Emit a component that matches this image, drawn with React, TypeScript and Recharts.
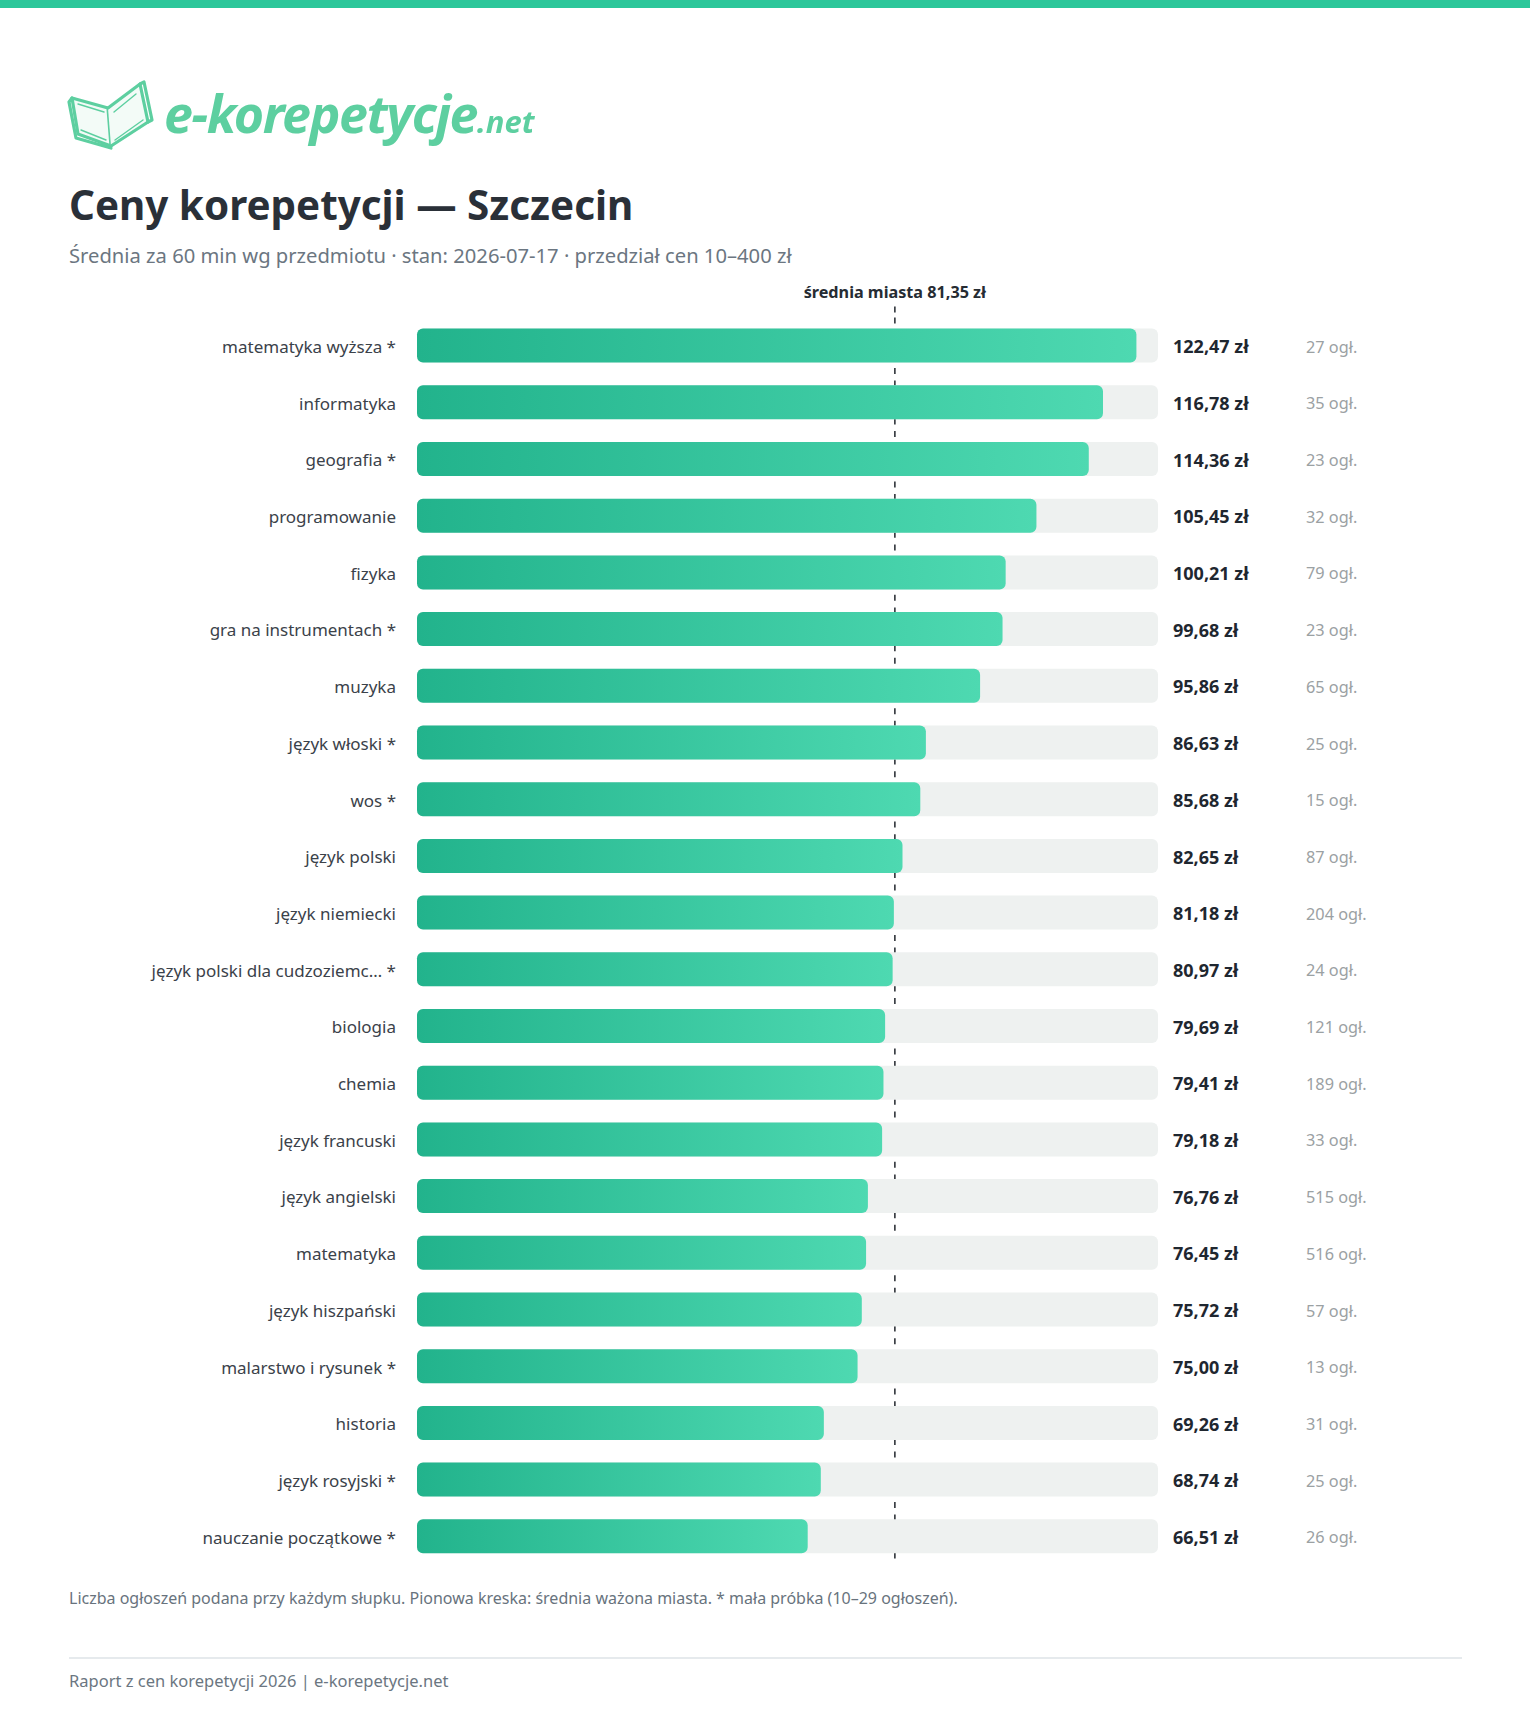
import React from 'react';
import { BarChart, Bar, XAxis, YAxis, ReferenceLine, CartesianGrid } from 'recharts';

const subjects = [
  'matematyka wyższa *', 'informatyka', 'geografia *', 'programowanie', 'fizyka',
  'gra na instrumentach *', 'muzyka', 'język włoski *', 'wos *', 'język polski',
  'język niemiecki', 'język polski dla cudzoziemc… *', 'biologia', 'chemia',
  'język francuski', 'język angielski', 'matematyka', 'język hiszpański',
  'malarstwo i rysunek *', 'historia', 'język rosyjski *', 'nauczanie początkowe *',
];
const prices = [
  122.47, 116.78, 114.36, 105.45, 100.21, 99.68, 95.86, 86.63, 85.68, 82.65, 81.18,
  80.97, 79.69, 79.41, 79.18, 76.76, 76.45, 75.72, 75.0, 69.26, 68.74, 66.51,
];
const counts = [27, 35, 23, 32, 79, 23, 65, 25, 15, 87, 204, 24, 121, 189, 33, 515, 516, 57, 13, 31, 25, 26];
const cityMean = 81.35;

const data = subjects.map((name, i) => ({ name, price: prices[i], count: counts[i] }));
const xMax = Math.max(...prices) * 1.03;

const FONT = '"Noto Sans", "Open Sans", sans-serif';
const fmt = (v: number) => v.toFixed(2).replace('.', ',') + ' zł';

const LeftTick = (props: any) => {
  const { x, y, payload } = props;
  return (
    <text x={x} y={y + 1} dy="0.35em" textAnchor="end" fontFamily={FONT} fontSize={17} fill="#3b424a">
      {payload.value}
    </text>
  );
};

const RightTick = (props: any) => {
  const { x, y, index } = props;
  const d = data[index];
  if (!d) return null;
  return (
    <g>
      <text x={x} y={y + 1} dy="0.35em" textAnchor="start" fontFamily={FONT} fontSize={18} fontWeight={700} fill="#1f2730">
        {fmt(d.price)}
      </text>
      <text x={x + 133} y={y + 1} dy="0.35em" textAnchor="start" fontFamily={FONT} fontSize={16.3} fill="#9ba1a3">
        {d.count} ogł.
      </text>
    </g>
  );
};

// Only the part above the plot area plus the caption; the rest is a grid line drawn under the bars.
const MeanTop = (props: any) => {
  const { x1, y1, y2 } = props;
  const top = Math.min(y1, y2);
  return (
    <g>
      <line x1={x1} x2={x1} y1={top - 11} y2={top} stroke="#2f343a" strokeWidth={1.6} strokeDasharray="6 6.6" />
      <text x={x1} y={top - 20} textAnchor="middle" fontFamily={FONT} fontSize={16.2} fontWeight={700} fill="#262c33">
        średnia miasta {cityMean.toFixed(2).replace('.', ',')} zł
      </text>
    </g>
  );
};

const meanCoords = (p: any) => {
  const ax = p && p.xAxis;
  if (ax && typeof ax.scale === 'function') return [ax.scale(cityMean)];
  const off = p.offset;
  return [off.left + (off.width * cityMean) / xMax];
};

const BookIcon = () => (
  <svg width={90} height={72} style={{ position: 'absolute', left: 64, top: 78 }} viewBox="0 0 90 72">
    <g fill="none" stroke="#5dcfa0" strokeWidth={3.2} strokeLinejoin="round" strokeLinecap="round">
      <path d="M8 20 L44 30 L47 68 L14 56 Z" fill="#f3fbf7" />
      <path d="M44 30 L76 6 L84 44 L47 68" fill="#f3fbf7" />
      <path d="M76 6 L80 4 L88 42 L84 44" />
      <path d="M8 20 L5 24 L12 60 L47 70" />
      <path d="M14 26 L40 34" strokeWidth={1.4} />
      <path d="M50 34 L72 16" strokeWidth={1.4} />
      <path d="M17 52 L42 62" strokeWidth={1.4} />
      <path d="M51 62 L79 42" strokeWidth={1.4} />
    </g>
  </svg>
);

export default function App() {
  return (
    <div style={{ position: 'absolute', left: 0, top: 0, width: 1530, height: 1734, background: '#fff', overflow: 'hidden', fontFamily: FONT }}>
      <div style={{ position: 'absolute', left: 0, top: 0, width: 1530, height: 8, background: '#2cc79a' }} />
      <div style={{ filter: 'blur(0.6px)' }}>
        <BookIcon />
        <div style={{ position: 'absolute', left: 164, top: 87, fontFamily: FONT, fontStyle: 'italic', fontWeight: 700, color: '#5dcfa0', whiteSpace: 'nowrap', lineHeight: 1 }}>
          <span style={{ fontSize: 52, letterSpacing: -1.5 }}>e-korepetycje</span>
          <span style={{ fontSize: 31 }}>.net</span>
        </div>
      </div>
      <div style={{ position: 'absolute', left: 69, top: 181, fontSize: 40.4, fontWeight: 700, color: '#2a3038', whiteSpace: 'nowrap', lineHeight: 1.2 }}>
        Ceny korepetycji — Szczecin
      </div>
      <div style={{ position: 'absolute', left: 69, top: 243, fontSize: 20.2, color: '#6b7681', whiteSpace: 'nowrap', lineHeight: 1.2 }}>
        Średnia za 60 min wg przedmiotu · stan: 2026-07-17 · przedział cen 10–400 zł
      </div>

      <div style={{ position: 'absolute', left: 0, top: 0 }}>
        <BarChart
          width={1530}
          height={1734}
          data={data}
          layout="vertical"
          margin={{ top: 317.6, bottom: 169, left: 0, right: 0 }}
          barSize={34}
        >
          <defs>
            <linearGradient id="barGrad" x1="0" y1="0" x2="1" y2="0">
              <stop offset="0%" stopColor="#22b38c" />
              <stop offset="100%" stopColor="#4ed9b1" />
            </linearGradient>
          </defs>
          <XAxis type="number" domain={[0, xMax]} hide xAxisId="x" />
          <YAxis
            yAxisId="left"
            type="category"
            dataKey="name"
            width={417}
            axisLine={false}
            tickLine={false}
            tickSize={0}
            tickMargin={21}
            interval={0}
            tick={<LeftTick />}
          />
          <YAxis
            yAxisId="right"
            orientation="right"
            type="category"
            dataKey="name"
            width={372}
            axisLine={false}
            tickLine={false}
            tickSize={0}
            tickMargin={15}
            interval={0}
            tick={<RightTick />}
          />
          <CartesianGrid
            xAxisId="x"
            yAxisId="left"
            horizontal={false}
            vertical
            verticalCoordinatesGenerator={meanCoords}
            stroke="#2f343a"
            strokeWidth={1.6}
            strokeDasharray="6 6.6"
          />
          <ReferenceLine x={cityMean} xAxisId="x" yAxisId="left" shape={<MeanTop />} />
          <Bar
            dataKey="price"
            xAxisId="x"
            yAxisId="left"
            fill="url(#barGrad)"
            radius={6}
            background={{ fill: '#eef1f0', radius: 6 }}
            isAnimationActive={false}
          />
        </BarChart>
      </div>

      <div style={{ position: 'absolute', left: 69, top: 1589, fontSize: 16, color: '#68737d', whiteSpace: 'nowrap', lineHeight: 1.2 }}>
        Liczba ogłoszeń podana przy każdym słupku. Pionowa kreska: średnia ważona miasta. * mała próbka (10–29 ogłoszeń).
      </div>
      <div style={{ position: 'absolute', left: 69, top: 1657, width: 1393, height: 1.5, background: '#e6eaed' }} />
      <div style={{ position: 'absolute', left: 69, top: 1671, fontSize: 16.5, color: '#6b7681', whiteSpace: 'nowrap', lineHeight: 1.2 }}>
        Raport z cen korepetycji 2026 | e-korepetycje.net
      </div>
    </div>
  );
}
